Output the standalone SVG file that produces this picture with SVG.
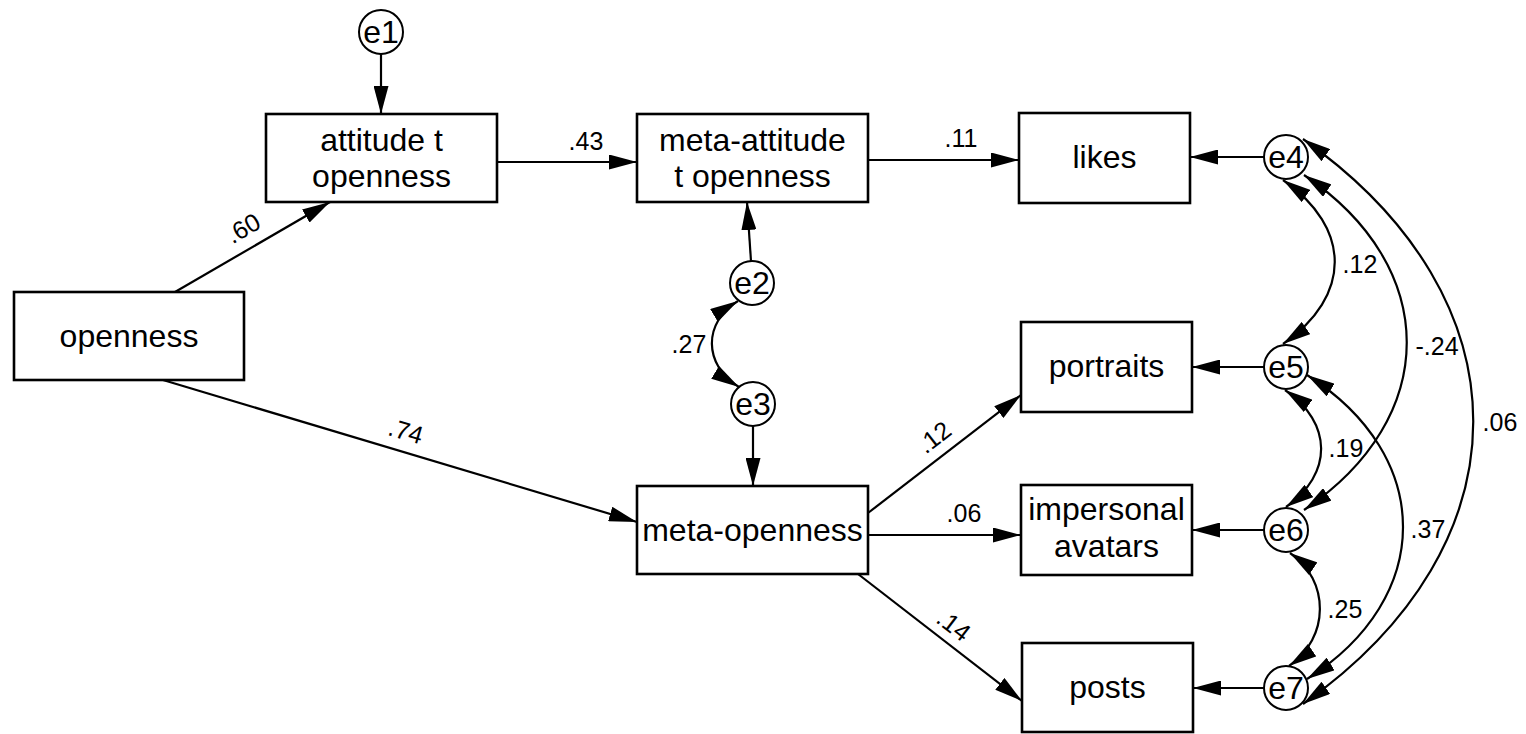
<svg xmlns="http://www.w3.org/2000/svg" width="1526" height="734" viewBox="0 0 1526 734">
  <style>
    .box { fill: #fff; stroke: #000; stroke-width: 2.6; }
    .err { fill: #fff; stroke: #000; stroke-width: 2; }
    .name { font-family: "Liberation Sans", Arial, sans-serif; font-size: 32px; text-anchor: middle; fill: #000; }
    .ename { font-family: "Liberation Sans", Arial, sans-serif; font-size: 32px; text-anchor: middle; fill: #000; }
    .coef { font-family: "Liberation Sans", Arial, sans-serif; font-size: 25px; text-anchor: middle; fill: #000; }
    .path { fill: none; stroke: #000; stroke-width: 2.2; marker-end: url(#head); }
    .cov { fill: none; stroke: #000; stroke-width: 2.2; marker-start: url(#head); marker-end: url(#head); }
  </style>
  <defs>
    <marker id="head" markerUnits="userSpaceOnUse" viewBox="0 0 28 15" markerWidth="28" markerHeight="15" refX="28" refY="7.5" orient="auto-start-reverse">
      <path d="M0,0 L28,7.5 L0,15 Z" fill="#000"/>
    </marker>
  </defs>

  <rect width="1526" height="734" fill="#fff"/>

  <!-- connectors: regression paths, error paths and covariances -->
  <g id="connectors">
    <!-- regression paths -->
    <line class="path" x1="175" y1="292" x2="330" y2="202"/>
    <line class="path" x1="163" y1="380" x2="637" y2="522"/>
    <line class="path" x1="497" y1="162" x2="637" y2="162"/>
    <line class="path" x1="868" y1="160" x2="1019" y2="160"/>
    <line class="path" x1="868" y1="513" x2="1021" y2="395"/>
    <line class="path" x1="868" y1="535" x2="1021" y2="535"/>
    <line class="path" x1="858" y1="574" x2="1022" y2="701"/>
    <!-- error terms to their variables -->
    <line class="path" x1="381" y1="54" x2="381" y2="114"/>
    <line class="path" x1="751" y1="261" x2="747" y2="202"/>
    <line class="path" x1="753" y1="426" x2="753" y2="486"/>
    <line class="path" x1="1264" y1="157" x2="1190" y2="157"/>
    <line class="path" x1="1264" y1="367" x2="1192" y2="367"/>
    <line class="path" x1="1264" y1="530" x2="1192" y2="530"/>
    <line class="path" x1="1264" y1="688" x2="1193" y2="688"/>
    <!-- covariances between error terms -->
    <path class="cov" d="M738,301 C703,322 703,365 739,387"/>
    <path class="cov" d="M1283,180 C1352,228 1352,296 1283,344"/>
    <path class="cov" d="M1285,390 C1333,423 1333,474 1286,507"/>
    <path class="cov" d="M1290,553 C1330,580 1330,638 1289,666"/>
    <path class="cov" d="M1304,175 C1441,267 1441,418 1304,510"/>
    <path class="cov" d="M1307,375 C1435,456 1435,598 1307,679"/>
    <path class="cov" d="M1303,139 C1530,299 1530,544 1303,704"/>

    <!-- coefficients -->
    <text class="coef" transform="translate(243,228) rotate(-30)" x="0" y="9">.60</text>
    <text class="coef" transform="translate(406,431) rotate(16.5)" x="0" y="9">.74</text>
    <text class="coef" x="586" y="150">.43</text>
    <text class="coef" x="961" y="147">.11</text>
    <text class="coef" transform="translate(934,437) rotate(-38)" x="0" y="9">.12</text>
    <text class="coef" x="964" y="522">.06</text>
    <text class="coef" transform="translate(954,625) rotate(37.5)" x="0" y="9">.14</text>
    <text class="coef" x="689" y="353">.27</text>
    <text class="coef" x="1360" y="273">.12</text>
    <text class="coef" x="1437" y="355">-.24</text>
    <text class="coef" x="1500" y="431">.06</text>
    <text class="coef" x="1346" y="457">.19</text>
    <text class="coef" x="1428" y="538">.37</text>
    <text class="coef" x="1345" y="618">.25</text>
  </g>

  <!-- observed variables -->
  <g id="openness">
    <rect class="box" x="14" y="292" width="230" height="88"/>
    <text class="name" x="129" y="347">openness</text>
  </g>
  <g id="attitude-t-openness">
    <rect class="box" x="266" y="114" width="231" height="88"/>
    <text class="name" x="381.5" y="151">attitude t</text>
    <text class="name" x="381.5" y="187">openness</text>
  </g>
  <g id="meta-attitude-t-openness">
    <rect class="box" x="637" y="114" width="231" height="88"/>
    <text class="name" x="752.5" y="151">meta-attitude</text>
    <text class="name" x="752.5" y="187">t openness</text>
  </g>
  <g id="meta-openness">
    <rect class="box" x="637" y="486" width="231" height="88"/>
    <text class="name" x="752.5" y="541">meta-openness</text>
  </g>
  <g id="likes">
    <rect class="box" x="1019" y="113" width="171" height="90"/>
    <text class="name" x="1104.5" y="168">likes</text>
  </g>
  <g id="portraits">
    <rect class="box" x="1021" y="322" width="171" height="90"/>
    <text class="name" x="1106.5" y="377">portraits</text>
  </g>
  <g id="impersonal-avatars">
    <rect class="box" x="1021" y="485" width="171" height="90"/>
    <text class="name" x="1106.5" y="520">impersonal</text>
    <text class="name" x="1106.5" y="557">avatars</text>
  </g>
  <g id="posts">
    <rect class="box" x="1022" y="643" width="171" height="89"/>
    <text class="name" x="1107.5" y="698">posts</text>
  </g>

  <!-- error terms -->
  <g id="e1">
    <circle class="err" cx="381" cy="32" r="22"/>
    <text class="ename" x="381" y="43">e1</text>
  </g>
  <g id="e2">
    <circle class="err" cx="752" cy="283" r="22"/>
    <text class="ename" x="752" y="294">e2</text>
  </g>
  <g id="e3">
    <circle class="err" cx="753" cy="404" r="22"/>
    <text class="ename" x="753" y="415">e3</text>
  </g>
  <g id="e4">
    <circle class="err" cx="1286" cy="157" r="22"/>
    <text class="ename" x="1286" y="168">e4</text>
  </g>
  <g id="e5">
    <circle class="err" cx="1286" cy="367" r="22"/>
    <text class="ename" x="1286" y="378">e5</text>
  </g>
  <g id="e6">
    <circle class="err" cx="1286" cy="530" r="22"/>
    <text class="ename" x="1286" y="541">e6</text>
  </g>
  <g id="e7">
    <circle class="err" cx="1286" cy="688" r="22"/>
    <text class="ename" x="1286" y="699">e7</text>
  </g>
</svg>
